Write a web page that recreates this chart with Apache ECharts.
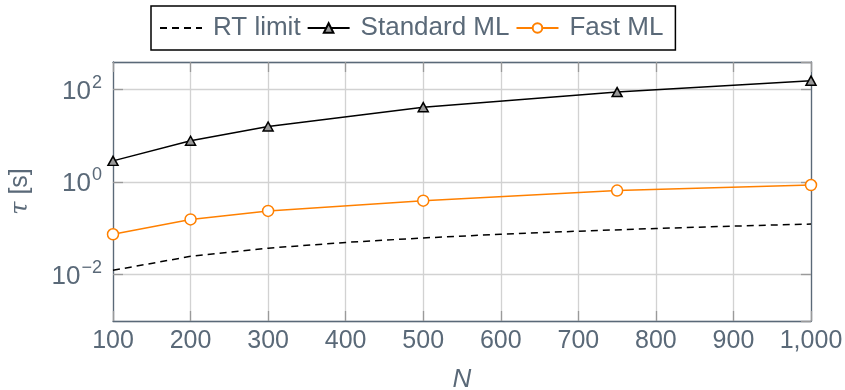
<!DOCTYPE html>
<html>
<head>
<meta charset="utf-8">
<script src="https://cdn.jsdelivr.net/npm/echarts@6/dist/echarts.min.js"></script>
<style>
  html, body { margin: 0; padding: 0; background: #fff; }
  #chart { width: 845px; height: 390px; }
</style>
</head>
<body>
<div id="chart"></div>
<script>
// Problem sizes and run times (seconds)
const mlSizes = [100, 200, 300, 500, 750, 1000];
const standardML = [2.9, 7.9, 16, 42, 89, 157];
const fastML = [0.075, 0.157, 0.24, 0.40, 0.66, 0.87];

const rtSizes = [100, 200, 300, 400, 500, 600, 700, 800, 900, 1000];
const rtLimit = [0.0125, 0.025, 0.0375, 0.05, 0.0625, 0.075, 0.0875, 0.1, 0.1125, 0.125];

const xTicks = { min: 100, max: 1000, step: 100 };
const yRange = { min: 0.001, max: 398 };

const SLATE = '#5a6978';
const GRID = '#d2d2d2';
const TICK = '#9a9a9a';
const FONT = 'Liberation Sans';

const pairs = (xs, ys) => xs.map((x, i) => [x, ys[i]]);

function yLabel(v) {
  const e = Math.round(Math.log10(v));
  const s = e < 0 ? '\u2212' + (-e) : String(e);
  return '{b|10}{s|' + s + '}';
}

const baseX = {
  type: 'value',
  min: xTicks.min,
  max: xTicks.max,
  interval: xTicks.step,
  axisLine: { show: true, lineStyle: { color: SLATE, width: 1.3 } },
  axisTick: { show: true, inside: true, length: 10, lineStyle: { color: TICK, width: 1.3 } },
  splitLine: { show: false }
};

const baseY = {
  type: 'log',
  logBase: 100,
  min: yRange.min,
  max: yRange.max,
  axisLine: { show: true, lineStyle: { color: SLATE, width: 1.3 } },
  axisTick: { show: true, inside: true, length: 10, lineStyle: { color: TICK, width: 1.3 } },
  splitLine: { show: false },
  minorTick: { show: false }
};

const chart = echarts.init(document.getElementById('chart'), null, { renderer: 'canvas' });

chart.setOption({
  animation: false,
  backgroundColor: '#fff',
  textStyle: { fontFamily: FONT },
  grid: { left: 113, right: 34, top: 62, bottom: 69, containLabel: false, outerBoundsMode: 'none' },
  legend: {
    left: 151,
    top: 6,
    orient: 'horizontal',
    padding: [9, 12, 9, 8],
    itemGap: 6,
    itemWidth: 42,
    itemHeight: 12,
    borderColor: '#000',
    borderWidth: 1.5,
    borderRadius: 0,
    backgroundColor: '#fff',
    textStyle: { fontFamily: FONT, fontSize: 26, color: SLATE, padding: [0, 0, 0, 6] },
    data: ['RT limit', 'Standard ML', 'Fast ML']
  },
  xAxis: [
    Object.assign({}, baseX, {
      position: 'bottom',
      name: 'N',
      nameLocation: 'middle',
      nameGap: 46,
      nameTextStyle: { fontFamily: FONT, fontSize: 26, fontStyle: 'italic', color: SLATE },
      splitLine: { show: true, lineStyle: { color: GRID, width: 1.3 } },
      axisLabel: {
        show: true,
        margin: 8,
        fontFamily: FONT,
        fontSize: 25,
        color: SLATE,
        formatter: v => v.toLocaleString('en-US')
      }
    }),
    Object.assign({}, baseX, { position: 'top', axisLabel: { show: false } })
  ],
  yAxis: [
    Object.assign({}, baseY, {
      position: 'left',
      name: '{t|\u03c4} [s]',
      nameLocation: 'middle',
      nameRotate: 90,
      nameGap: 80,
      nameTextStyle: {
        fontFamily: FONT, fontSize: 25, color: SLATE,
        rich: { t: { fontFamily: 'DejaVu Serif', fontStyle: 'italic', fontSize: 24, color: SLATE } }
      },
      splitLine: { show: true, lineStyle: { color: GRID, width: 1.3 } },
      axisLabel: {
        show: true,
        margin: 11,
        showMinLabel: false,
        showMaxLabel: false,
        formatter: yLabel,
        rich: {
          b: { fontFamily: FONT, fontSize: 26, color: SLATE, padding: [4, 0, 0, 0] },
          s: { fontFamily: FONT, fontSize: 18, color: SLATE, padding: [0, 0, 14, 1] }
        }
      }
    }),
    Object.assign({}, baseY, { position: 'right', axisLabel: { show: false } })
  ],
  series: [
    {
      name: 'RT limit',
      type: 'line',
      data: pairs(rtSizes, rtLimit),
      showSymbol: false,
      symbol: 'circle',
      symbolSize: 0,
      lineStyle: { color: '#000', width: 1.5, type: [7, 5] },
      itemStyle: { color: 'rgba(0,0,0,0)', borderWidth: 0 },
      z: 3
    },
    {
      name: 'Standard ML',
      type: 'line',
      data: pairs(mlSizes, standardML),
      symbol: 'triangle',
      symbolSize: [10, 9],
      lineStyle: { color: '#000', width: 1.5 },
      itemStyle: { color: '#999', borderColor: '#000', borderWidth: 1.5 },
      z: 4
    },
    {
      name: 'Fast ML',
      type: 'line',
      data: pairs(mlSizes, fastML),
      symbol: 'circle',
      symbolSize: 11,
      lineStyle: { color: '#ff8000', width: 1.5 },
      itemStyle: { color: '#fff', borderColor: '#ff8000', borderWidth: 1.5 },
      z: 5
    }
  ]
});
</script>
</body>
</html>
